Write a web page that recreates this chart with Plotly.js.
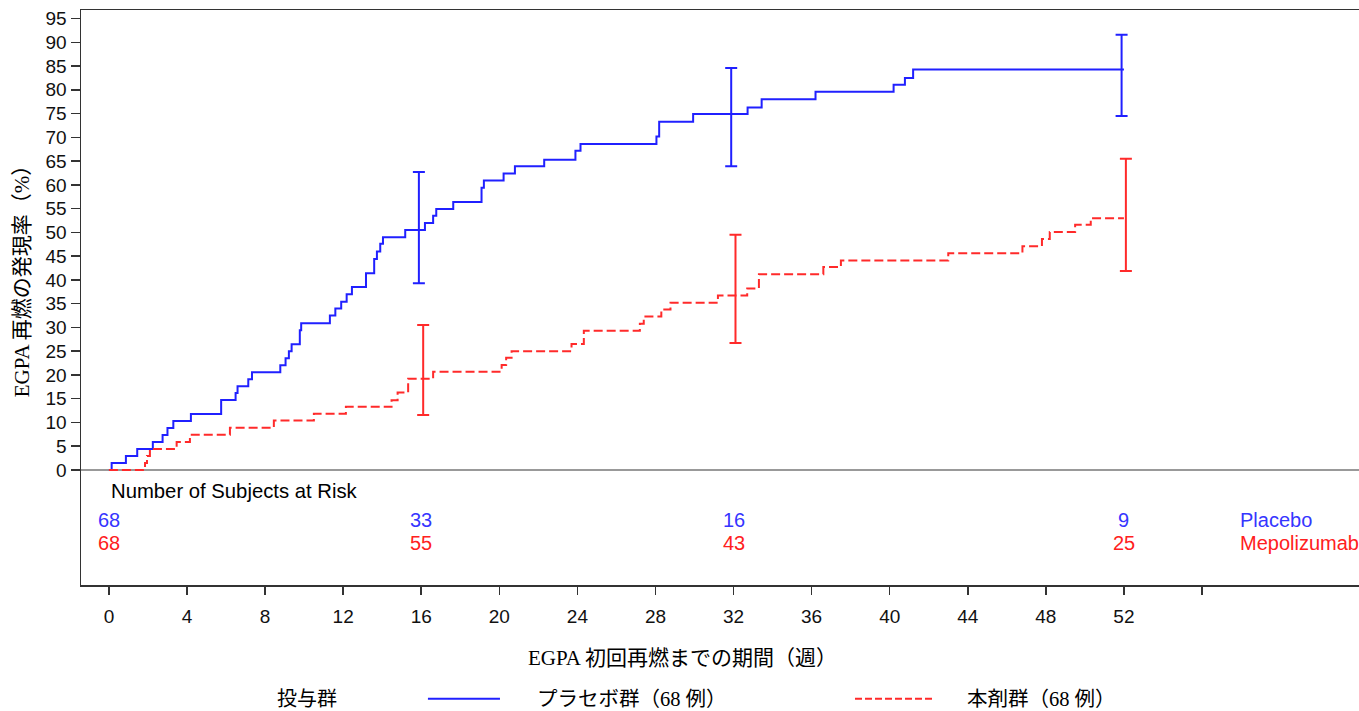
<!DOCTYPE html>
<html>
<head>
<meta charset="utf-8">
<script src="https://cdn.plot.ly/plotly-3.0.1.min.js"></script>
<style>
  html, body { margin: 0; padding: 0; overflow: hidden; background: #fff; }
  #chart { width: 1365px; height: 711px; }
</style>
</head>
<body>
<div id="chart"></div>
<script>
// ---- Data ----
const placeboWeeks = [0, 0.14, 0.87, 1.45, 2.25, 2.75, 3.0, 3.3, 4.2, 5.75, 6.49, 6.59, 7.14, 7.33, 8.78, 9.05, 9.22, 9.36, 9.78, 9.85,
  11.32, 11.6, 11.9, 12.18, 12.45, 13.17, 13.59, 13.73, 13.9, 14.04, 15.18, 16.19, 16.61, 16.77, 17.64, 19.09, 19.21, 20.22, 20.8,
  22.3, 23.9, 24.16, 28.05, 28.19, 29.93, 32.72, 33.44, 36.2, 40.2, 40.78, 41.2, 52];
const placeboRate = [0, 1.47, 2.94, 4.41, 5.88, 7.35, 8.82, 10.29, 11.76, 14.71, 16.18, 17.65, 19.12, 20.59, 22.06, 23.53, 25.0, 26.47, 29.41, 30.88,
  32.5, 34.0, 35.4, 37.0, 38.5, 41.4, 44.4, 46.0, 47.6, 49.0, 50.5, 52.0, 53.5, 54.9, 56.4, 59.4, 60.9, 62.4, 63.9,
  65.3, 67.2, 68.6, 70.2, 73.3, 74.9, 76.3, 78.0, 79.6, 81.05, 82.5, 84.3, 84.3];

const mepoWeeks = [0, 1.85, 1.95, 2.1, 3.47, 4.15, 6.2, 8.45, 10.5, 12.14, 14.48, 14.79, 15.33, 16.61, 20.12, 20.35, 20.63, 23.7, 24.33,
  27.2, 27.4, 28.3, 28.77, 31.2, 32.7, 33.3, 36.6, 37.5, 43.0, 46.8, 47.8, 48.2, 49.5, 50.3, 52];
const mepoRate = [0, 1.47, 2.94, 4.41, 5.9, 7.4, 8.9, 10.4, 11.85, 13.3, 14.7, 16.3, 19.2, 20.7, 22.1, 23.6, 25.0, 26.5, 29.3,
  30.8, 32.3, 33.8, 35.2, 36.7, 38.2, 41.2, 42.7, 44.1, 45.6, 47.1, 48.6, 50.1, 51.6, 53.0, 53.0];

const ciWeeks = [16, 32, 52];
const placeboEst = [50.5, 74.9, 84.3];
const placeboLower = [39.3, 63.9, 74.5];
const placeboUpper = [62.7, 84.6, 91.6];
const mepoEst = [19.2, 36.7, 53.0];
const mepoLower = [11.6, 26.7, 41.9];
const mepoUpper = [30.5, 49.5, 65.5];

const riskWeeks = [0, 16, 32, 52];
const riskPlacebo = [68, 33, 16, 9];
const riskMepo = [68, 55, 43, 25];

const xTickVals = [0, 4, 8, 12, 16, 20, 24, 28, 32, 36, 40, 44, 48, 52, 56];
const xTickText = ['0', '4', '8', '12', '16', '20', '24', '28', '32', '36', '40', '44', '48', '52', ''];
const yTickVals = [0, 5, 10, 15, 20, 25, 30, 35, 40, 45, 50, 55, 60, 65, 70, 75, 80, 85, 90, 95];

const labels = {
  riskHeader: 'Number of Subjects at Risk',
  placeboName: 'Placebo',
  mepoName: 'Mepolizumab',
  xTitle: 'EGPA 初回再燃までの期間（週）',
  yTitle: 'EGPA 再燃の発現率（%）',
  legendTitle: '投与群',
  legPlacebo: 'プラセボ群（68 例）',
  legMepo: '本剤群（68 例）'
};

// ---- Styles ----
const BLUE = '#2020ff';
const RED = '#ff2a2a';
const BLUE_T = '#3535ff';
const RED_T = '#ff2020';
const sansFont = 'Liberation Sans, Arial, sans-serif';
const serifFont = 'Liberation Serif, Times New Roman, Noto Sans CJK JP, serif';

const traces = [
  {
    x: placeboWeeks, y: placeboRate, type: 'scatter', mode: 'lines',
    line: { shape: 'hv', color: BLUE, width: 2 }, hoverinfo: 'skip', showlegend: false
  },
  {
    x: mepoWeeks, y: mepoRate, type: 'scatter', mode: 'lines',
    line: { shape: 'hv', color: RED, width: 2, dash: '9px,4px' }, hoverinfo: 'skip', showlegend: false
  },
  {
    x: ciWeeks.map(w => w - 0.12), y: placeboEst, type: 'scatter', mode: 'markers',
    marker: { size: 1, color: 'rgba(0,0,0,0)' },
    error_y: { type: 'data', symmetric: false,
      array: placeboUpper.map((u, i) => u - placeboEst[i]),
      arrayminus: placeboLower.map((l, i) => placeboEst[i] - l),
      color: BLUE, thickness: 2, width: 6 },
    hoverinfo: 'skip', showlegend: false
  },
  {
    x: ciWeeks.map(w => w + 0.1), y: mepoEst, type: 'scatter', mode: 'markers',
    marker: { size: 1, color: 'rgba(0,0,0,0)' },
    error_y: { type: 'data', symmetric: false,
      array: mepoUpper.map((u, i) => u - mepoEst[i]),
      arrayminus: mepoLower.map((l, i) => mepoEst[i] - l),
      color: RED, thickness: 2, width: 6 },
    hoverinfo: 'skip', showlegend: false
  }
];

const annotations = [];
annotations.push({ x: 0.0, y: -4.4, xref: 'x', yref: 'y', text: labels.riskHeader, showarrow: false,
  xanchor: 'left', yanchor: 'middle', font: { family: sansFont, size: 20.3, color: '#000' } });
riskWeeks.forEach((w, i) => {
  annotations.push({ x: w, y: -10.6, xref: 'x', yref: 'y', text: String(riskPlacebo[i]), showarrow: false,
    xanchor: 'center', yanchor: 'middle', font: { family: sansFont, size: 20, color: BLUE_T } });
  annotations.push({ x: w, y: -15.4, xref: 'x', yref: 'y', text: String(riskMepo[i]), showarrow: false,
    xanchor: 'center', yanchor: 'middle', font: { family: sansFont, size: 20, color: RED_T } });
});
annotations.push({ x: 57.85, y: -10.6, xref: 'x', yref: 'y', text: labels.placeboName, showarrow: false,
  xanchor: 'left', yanchor: 'middle', font: { family: sansFont, size: 20, color: BLUE_T } });
annotations.push({ x: 57.85, y: -15.4, xref: 'x', yref: 'y', text: labels.mepoName, showarrow: false,
  xanchor: 'left', yanchor: 'middle', font: { family: sansFont, size: 20, color: RED_T } });

// axis titles (placed as in the reference)
annotations.push({ x: -0.0459, y: 0.537, xref: 'paper', yref: 'paper', text: labels.yTitle, textangle: -90,
  showarrow: false, xanchor: 'center', yanchor: 'middle', font: { family: serifFont, size: 21, color: '#000' } });
annotations.push({ x: 0.4688, y: -0.127, xref: 'paper', yref: 'paper', text: labels.xTitle,
  showarrow: false, xanchor: 'center', yanchor: 'middle', font: { family: serifFont, size: 21, color: '#000' } });

// legend
annotations.push({ x: 0.1511, y: -0.198, xref: 'paper', yref: 'paper', text: labels.legendTitle,
  showarrow: false, xanchor: 'left', yanchor: 'middle', font: { family: serifFont, size: 20, color: '#000' } });
annotations.push({ x: 0.3536, y: -0.198, xref: 'paper', yref: 'paper', text: labels.legPlacebo,
  showarrow: false, xanchor: 'left', yanchor: 'middle', font: { family: serifFont, size: 20.5, color: '#000' } });
annotations.push({ x: 0.6885, y: -0.198, xref: 'paper', yref: 'paper', text: labels.legMepo,
  showarrow: false, xanchor: 'left', yanchor: 'middle', font: { family: serifFont, size: 20.5, color: '#000' } });

const shapes = [
  { type: 'line', xref: 'paper', yref: 'paper', x0: 0.2702, x1: 0.3263, y0: -0.198, y1: -0.198,
    line: { color: BLUE, width: 2 } },
  { type: 'line', xref: 'paper', yref: 'paper', x0: 0.6028, x1: 0.6636, y0: -0.198, y1: -0.198,
    line: { color: RED, width: 2, dash: '7px,3px' } }
];

const layout = {
  width: 1365, height: 711,
  margin: { l: 81, r: 0, t: 10, b: 126, pad: 0 },
  paper_bgcolor: '#fff', plot_bgcolor: '#fff',
  showlegend: false,
  xaxis: {
    range: [-1.43, 64.35], tickmode: 'array', tickvals: xTickVals, ticktext: xTickText,
    ticks: 'outside', ticklen: 8, tickwidth: 1.5, tickcolor: '#333', ticklabelstandoff: 6,
    showline: true, linecolor: '#333', linewidth: 1.5, mirror: true,
    showgrid: false, zeroline: false,
    tickfont: { family: sansFont, size: 19, color: '#111' }
  },
  yaxis: {
    range: [-24.2, 96.8], tickmode: 'array', tickvals: yTickVals,
    ticks: 'outside', ticklen: 9, tickwidth: 1.5, tickcolor: '#333',
    showline: true, linecolor: '#333', linewidth: 1.5, mirror: true,
    showgrid: false, zeroline: true, zerolinecolor: '#999', zerolinewidth: 1.2,
    tickfont: { family: sansFont, size: 19, color: '#111' }
  },
  annotations: annotations,
  shapes: shapes
};

Plotly.newPlot('chart', traces, layout, { displayModeBar: false, staticPlot: true });
</script>
</body>
</html>
